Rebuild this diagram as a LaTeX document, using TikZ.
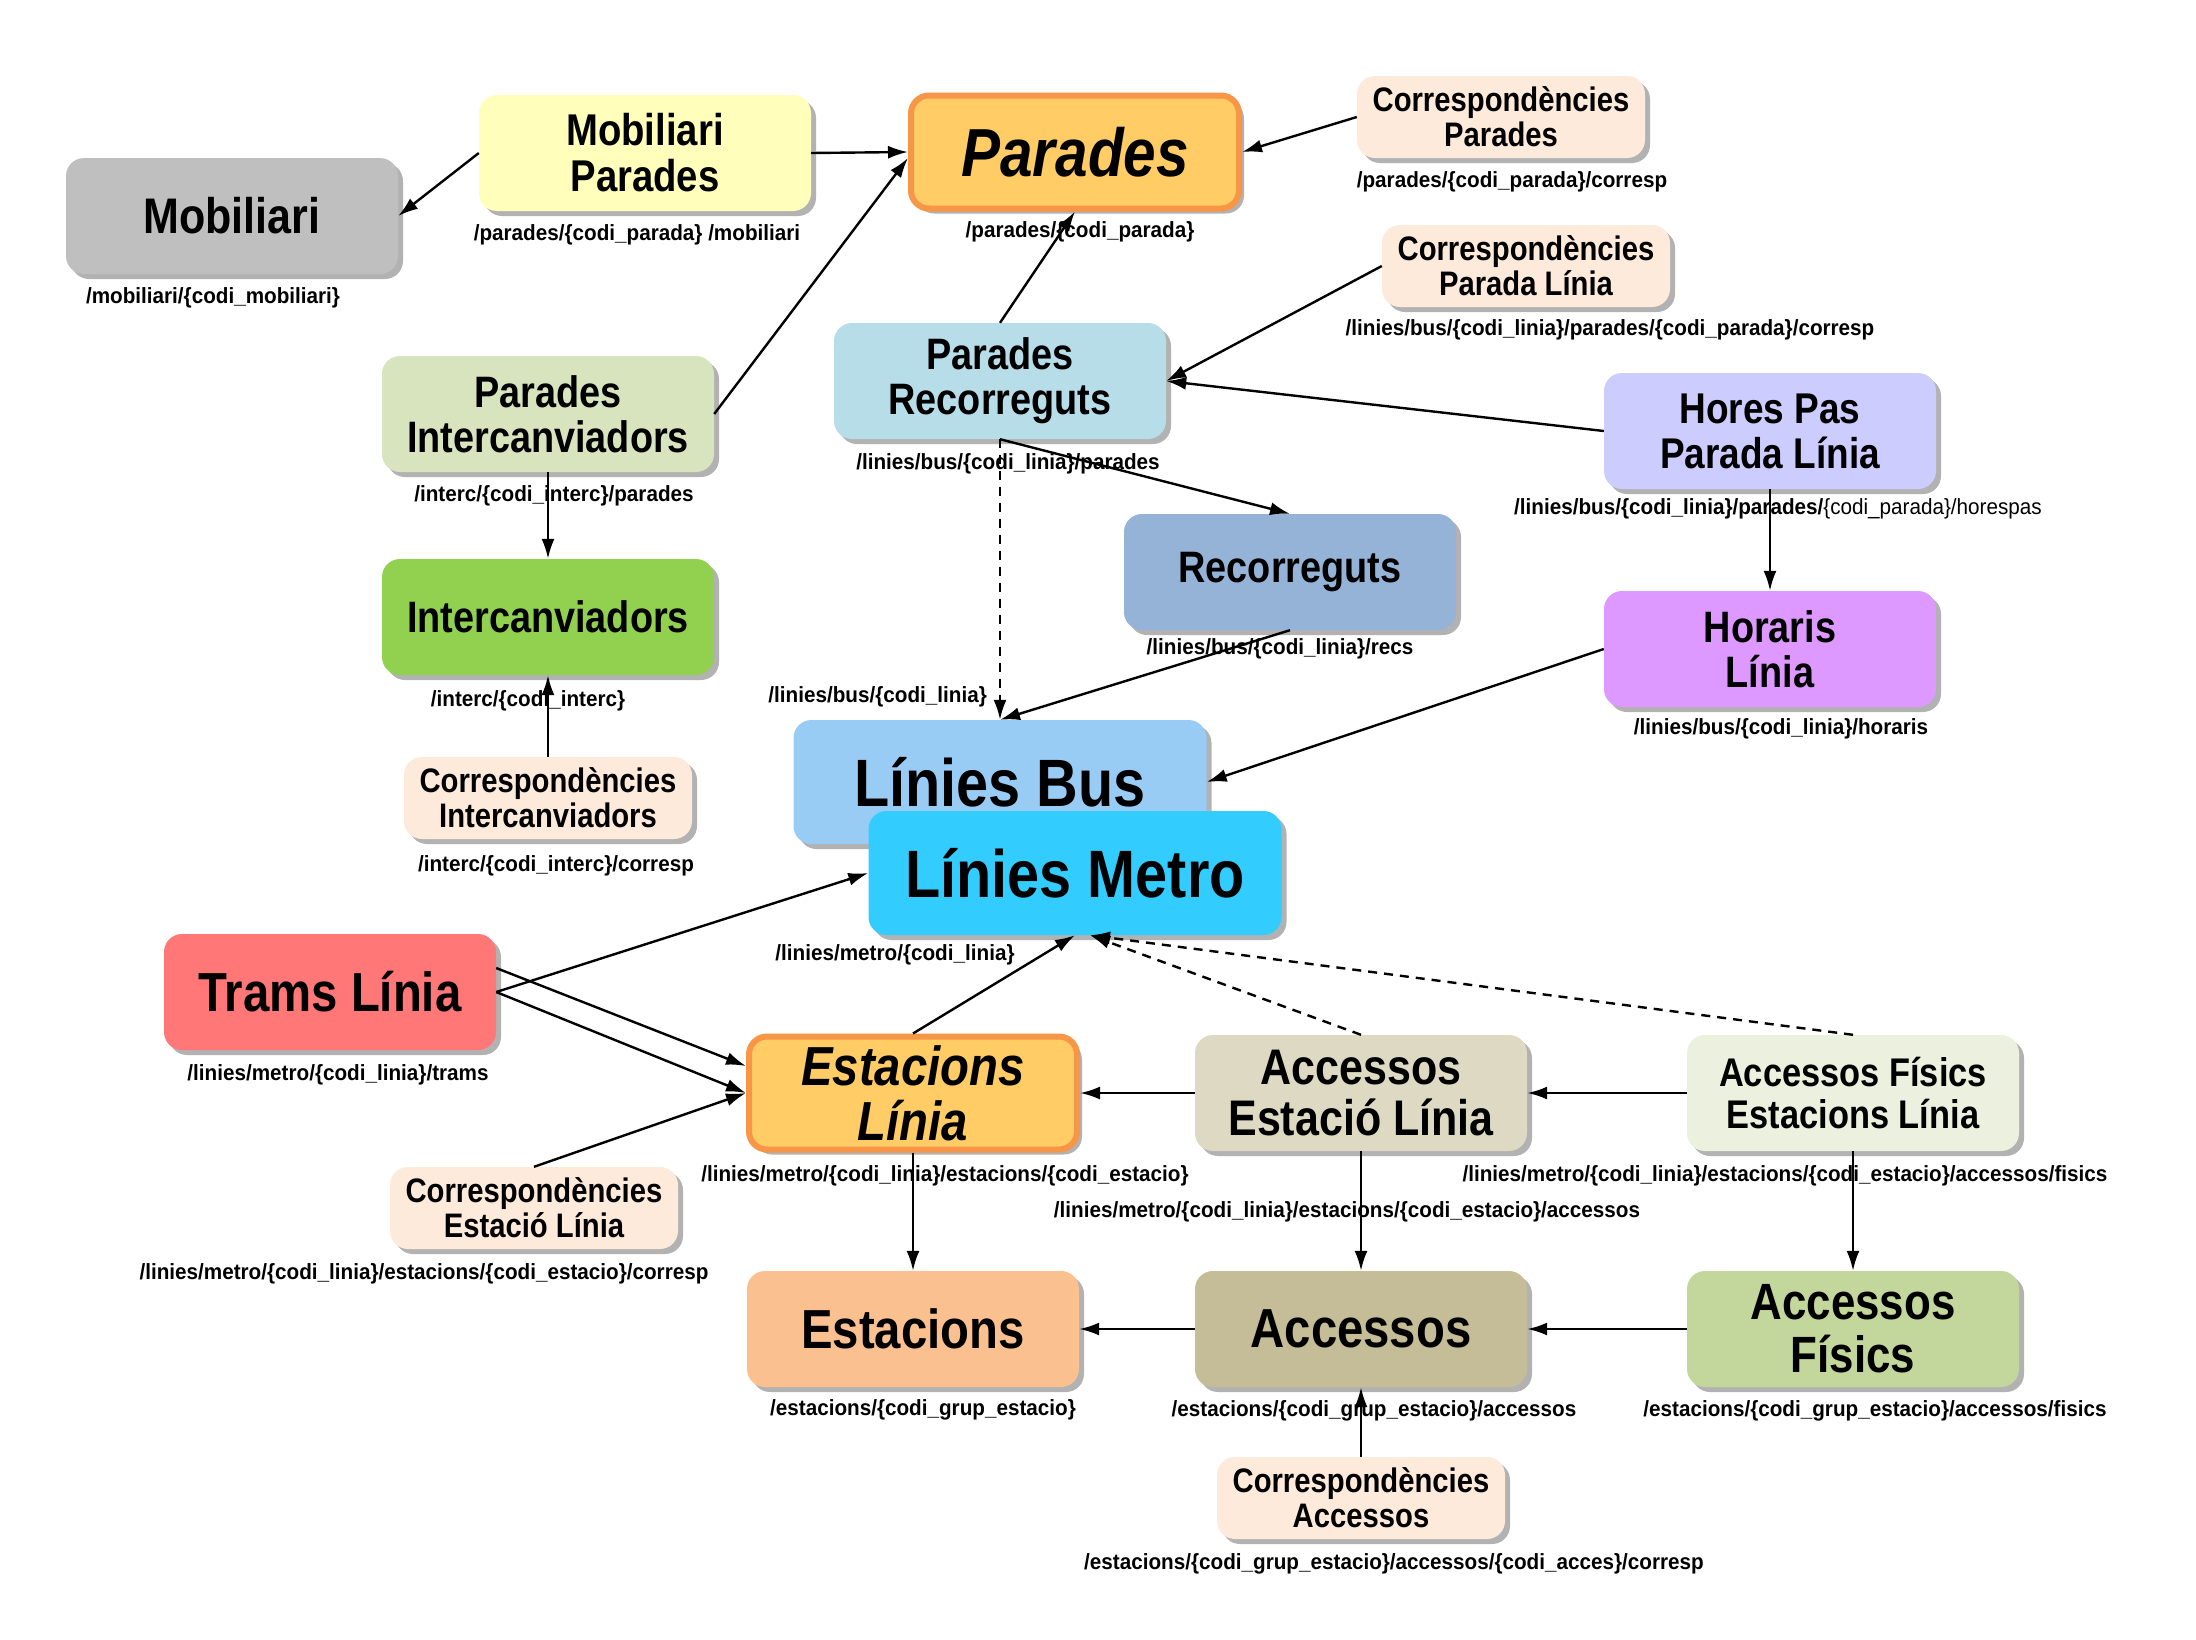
\documentclass[tikz,border=0pt]{standalone}
\usepackage{fontspec}
\setmainfont{Liberation Sans}
\newfontfamily\titlefont[FakeStretch=0.86]{Liberation Sans}
\newfontfamily\urlfont[FakeStretch=0.94]{Liberation Sans}
\usepackage{tikz}
\usetikzlibrary{positioning,shadows,arrows.meta}

\definecolor{mobgray}{HTML}{BFBFBF}
\definecolor{mobparcol}{HTML}{FFFFBB}
\definecolor{parcol}{HTML}{FFCC66}
\definecolor{parborder}{HTML}{F79646}
\definecolor{corrcol}{HTML}{FDEADA}
\definecolor{parintcol}{HTML}{D7E4BD}
\definecolor{parreccol}{HTML}{B7DDE8}
\definecolor{horescol}{HTML}{CCCCFF}
\definecolor{interccol}{HTML}{92D050}
\definecolor{recscol}{HTML}{95B3D7}
\definecolor{horariscol}{HTML}{DD99FF}
\definecolor{buscol}{HTML}{99CCF5}
\definecolor{metrocol}{HTML}{33CCFF}
\definecolor{tramscol}{HTML}{FF7777}
\definecolor{accestlincol}{HTML}{DDD9C3}
\definecolor{accfisestlincol}{HTML}{EBF1DE}
\definecolor{estcol}{HTML}{FAC090}
\definecolor{acccol}{HTML}{C4BD97}
\definecolor{accfiscol}{HTML}{C3D69B}

\begin{document}
\begin{tikzpicture}[
        x=1pt, y=-1pt,
        box/.style={rectangle, rounded corners=18pt, minimum width=332pt, minimum height=116pt,
            align=center, inner sep=0pt,
            drop shadow={shadow xshift=5pt, shadow yshift=-5pt, fill=black, opacity=0.3}},
        boxtext/.style 2 args={font={\titlefont\bfseries\fontsize{#1}{#2}\selectfont}},
        boxtextit/.style 2 args={font={\titlefont\bfseries\itshape\fontsize{#1}{#2}\selectfont}},
        corr/.style={box, fill=corrcol, minimum width=288pt, minimum height=82pt, boxtext={34}{35}},
        main/.style={box, fill=parcol, draw=parborder, line width=6pt, minimum width=328pt, minimum height=113pt},
        wide/.style={box, minimum width=413pt, minimum height=124pt, boxtext={67}{69}},
        url/.style={inner sep=0pt, font={\urlfont\bfseries\fontsize{22}{22}\selectfont}},
        link/.style={line width=2.4pt, -{Latex[length=20pt,width=13pt]}},
        weak/.style={link, dash pattern=on 9pt off 7pt}
    ]

    \fill[white] (0,0) rectangle (2196,1639) ;
    \useasboundingbox (0,0) rectangle (2196,1639) ;

    % parades
    \node[box, fill=mobgray, boxtext={50}{52}] (mob) at (232,216) {Mobiliari} ;
    \node[box, fill=mobparcol, boxtext={44.5}{46}] (mobpar) at (645,153) {Mobiliari\\Parades} ;
    \node[main, boxtextit={68}{70}] (par) at (1075,152) {Parades} ;
    \node[corr] (corrpar) at (1501,117) {Correspondències\\Parades} ;
    \node[corr] (corrparlin) at (1526,266) {Correspondències\\Parada Línia} ;
    \node[box, fill=parintcol, boxtext={44}{45}] (parint) at (548,414) {Parades\\Intercanviadors} ;
    \node[box, fill=parreccol, boxtext={44}{45}] (parrec) at (1000,381) {Parades\\Recorreguts} ;
    \node[box, fill=horescol, boxtext={43}{45}] (hores) at (1770,431) {Hores Pas\\Parada Línia} ;
    \node[box, fill=interccol, boxtext={44}{45}] (interc) at (548,617) {Intercanviadors} ;
    \node[box, fill=recscol, boxtext={44}{45}] (recs) at (1290,572) {Recorreguts} ;
    \node[box, fill=horariscol, boxtext={44}{45}] (horaris) at (1770,649) {Horaris\\Línia} ;
    \node[corr] (corrint) at (548,798) {Correspondències\\Intercanviadors} ;

    % linies
    \node[wide, fill=buscol] (bus) at (1000,782) {Línies Bus} ;
    \node[wide, fill=metrocol] (metro) at (1075,873) {Línies Metro} ;
    \node[box, fill=tramscol, boxtext={55}{55}] (trams) at (330,992) {Trams Línia} ;

    % estacions
    \node[main, boxtextit={55}{55}] (estlin) at (913,1093) {Estacions\\Línia} ;
    \node[box, fill=accestlincol, boxtext={50}{51}] (accestlin) at (1361,1093) {Accessos\\Estació Línia} ;
    \node[box, fill=accfisestlincol, boxtext={40}{42}] (accfisestlin) at (1853,1093) {Accessos Físics\\Estacions Línia} ;
    \node[corr] (correstlin) at (534,1208) {Correspondències\\Estació Línia} ;
    \node[box, fill=estcol, boxtext={55}{55}] (est) at (913,1329) {Estacions} ;
    \node[box, fill=acccol, boxtext={55}{55}] (acc) at (1361,1329) {Accessos} ;
    \node[box, fill=accfiscol, boxtext={51}{53}] (accfis) at (1853,1329) {Accessos\\Físics} ;
    \node[corr] (corracc) at (1361,1498) {Correspondències\\Accessos} ;

    % urls
    \node[url, below=13.5pt of mob, xshift=-19pt] (mob-url) {/mobiliari/\{codi\_mobiliari\}} ;
    \node[url, below=13.5pt of mobpar, xshift=-8pt] (mobpar-url) {/parades/\{codi\_parada\} /mobiliari} ;
    \node[url, below=9.5pt of par, xshift=5pt] (par-url) {/parades/\{codi\_parada\}} ;
    \node[url, below=13.5pt of corrpar, xshift=11pt] (corrpar-url) {/parades/\{codi\_parada\}/corresp} ;
    \node[url, below=12.5pt of corrparlin, xshift=84pt] (corrparlin-url) {/linies/bus/\{codi\_linia\}/parades/\{codi\_parada\}/corresp} ;
    \node[url, below=13.5pt of parint, xshift=6pt] (parint-url) {/interc/\{codi\_interc\}/parades} ;
    \node[url, below=14.5pt of parrec, xshift=8pt] (parrec-url) {/linies/bus/\{codi\_linia\}/parades} ;
    \node[url, below=9.5pt of hores, xshift=8pt] (hores-url) {/linies/bus/\{codi\_linia\}/parades/{\mdseries\{codi\_parada\}/horespas}} ;
    \node[url, below=15.5pt of interc, xshift=-20pt] (interc-url) {/interc/\{codi\_interc\}} ;
    \node[url, below=8.5pt of recs, xshift=-10pt] (recs-url) {/linies/bus/\{codi\_linia\}/recs} ;
    \node[url, below=11.5pt of horaris, xshift=11pt] (horaris-url) {/linies/bus/\{codi\_linia\}/horaris} ;
    \node[url, below=16.5pt of corrint, xshift=8pt] (corrint-url) {/interc/\{codi\_interc\}/corresp} ;
    \node[url, above left=13pt and 13pt of bus.north] (bus-url) {/linies/bus/\{codi\_linia\}} ;
    \node[url, below=9.5pt of metro, xshift=-180pt] (metro-url) {/linies/metro/\{codi\_linia\}} ;
    \node[url, below=14.5pt of trams, xshift=8pt] (trams-url) {/linies/metro/\{codi\_linia\}/trams} ;
    \node[url, below=12.5pt of estlin, xshift=32pt] (estlin-url) {/linies/metro/\{codi\_linia\}/estacions/\{codi\_estacio\}} ;
    \node[url, below=50.5pt of accestlin, xshift=-14pt] (accestlin-url) {/linies/metro/\{codi\_linia\}/estacions/\{codi\_estacio\}/accessos} ;
    \node[url, below=14.5pt of accfisestlin, xshift=-68pt] (accfisestlin-url) {/linies/metro/\{codi\_linia\}/estacions/\{codi\_estacio\}/accessos/fisics} ;
    \node[url, below=14.5pt of correstlin, xshift=-110pt] (correstlin-url) {/linies/metro/\{codi\_linia\}/estacions/\{codi\_estacio\}/corresp} ;
    \node[url, below=12.5pt of est, xshift=10pt] (est-url) {/estacions/\{codi\_grup\_estacio\}} ;
    \node[url, below=13.5pt of acc, xshift=13pt] (acc-url) {/estacions/\{codi\_grup\_estacio\}/accessos} ;
    \node[url, below=13.5pt of accfis, xshift=22pt] (accfis-url) {/estacions/\{codi\_grup\_estacio\}/accessos/fisics} ;
    \node[url, below=14.5pt of corracc, xshift=33pt] (corracc-url) {/estacions/\{codi\_grup\_estacio\}/accessos/\{codi\_acces\}/corresp} ;

    % connectors
    \draw[link] (mobpar.west) -- (mob.east) ;
    \draw[link] (mobpar.east) -- (par.west) ;
    \draw[link] (parint.east) -- ([yshift=-6pt]par.west) ;
    \draw[link] (corrpar.west) -- (par.east) ;
    \draw[link] (parrec.north) -- (par.south) ;
    \draw[link] (corrparlin.west) -- (parrec.east) ;
    \draw[link] (hores.west) -- (parrec.east) ;
    \draw[link] (parrec.south) -- (recs.north) ;
    \draw[weak] (parrec.south) -- (bus.north) ;
    \draw[link] (recs.south) -- (bus.north) ;
    \draw[link] (horaris.west) -- (bus.east) ;
    \draw[link] (hores.south) -- (horaris.north) ;
    \draw[link] (parint.south) -- (interc.north) ;
    \draw[link] (corrint.north) -- (interc.south) ;

    \draw[link] (trams.east) -- (metro.west) ;
    \draw[link] ([yshift=24pt]trams.east) -- ([yshift=27pt]estlin.west) ;
    \draw[link] (trams.east) -- (estlin.west) ;
    \draw[link] (correstlin.north) -- (estlin.west) ;
    \draw[link] (estlin.north) -- (metro.south) ;
    \draw[weak] (accestlin.north) -- ([xshift=15pt]metro.south) ;
    \draw[weak] (accfisestlin.north) -- ([xshift=15pt]metro.south) ;

    \draw[link] (accestlin.west) -- (estlin.east) ;
    \draw[link] (accfisestlin.west) -- (accestlin.east) ;
    \draw[link] (estlin.south) -- (est.north) ;
    \draw[link] (accestlin.south) -- (acc.north) ;
    \draw[link] (accfisestlin.south) -- (accfis.north) ;
    \draw[link] (acc.west) -- (est.east) ;
    \draw[link] (accfis.west) -- (acc.east) ;
    \draw[link] (corracc.north) -- (acc.south) ;

\end{tikzpicture}
\end{document}
